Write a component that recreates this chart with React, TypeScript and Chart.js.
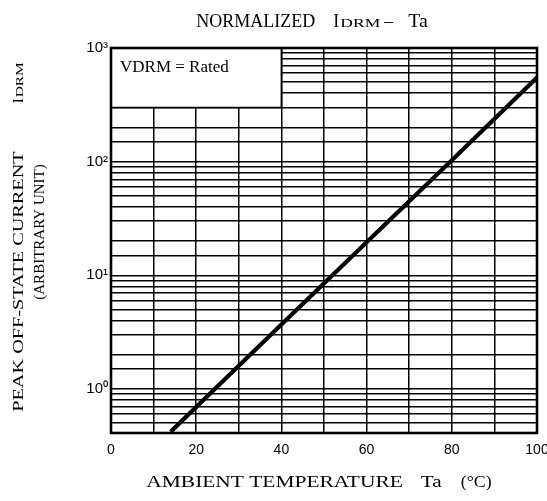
import React, { useEffect, useRef } from "react";
import { Chart, registerables } from "chart.js";

Chart.register(...registerables);

// ---- data ----
const tempC = [14, 40, 60, 80, 100];
const idrm = [0.42, 3.7, 19.5, 103, 550];
const xTicks = [0, 20, 40, 60, 80, 100];
const yDecades = [0, 1, 2, 3];
const supDigits = ["\u2070", "\u00B9", "\u00B2", "\u00B3"];
const boxXRange = [0, 40];
const boxYRange = [300, 1000];
const boxLabel = ["V", "DRM", " = Rated"];
const titleParts = ["NORMALIZED", "I", "DRM", "\u2013", "Ta"];
const yTitleLine1 = ["PEAK OFF-STATE CURRENT", "I", "DRM"];
const yTitleLine2 = "(ARBITRARY UNIT)";
const xTitleParts = ["AMBIENT TEMPERATURE", "Ta", "(\u00B0C)"];

const SERIF = '"Liberation Serif", "Times New Roman", serif';
const SANS = '"Liberation Sans", Arial, sans-serif';

type Part = { t: string; size: number; gap?: number; sx?: number };

function partsWidth(ctx: CanvasRenderingContext2D, parts: Part[]) {
  let w = 0;
  for (const p of parts) {
    ctx.font = `${p.size}px ${SERIF}`;
    w += ctx.measureText(p.t).width * (p.sx || 1) + (p.gap || 0);
  }
  return w;
}

function drawParts(ctx: CanvasRenderingContext2D, parts: Part[], cx: number, baseline: number) {
  const total = partsWidth(ctx, parts);
  let x = cx - total / 2;
  ctx.textAlign = "left";
  ctx.textBaseline = "alphabetic";
  ctx.fillStyle = "#000";
  for (const p of parts) {
    const sx = p.sx || 1;
    ctx.font = `${p.size}px ${SERIF}`;
    ctx.save();
    ctx.translate(x, baseline);
    ctx.scale(sx, 1);
    ctx.fillText(p.t, 0, 0);
    ctx.restore();
    x += ctx.measureText(p.t).width * sx + (p.gap || 0);
  }
}

const decorPlugin = {
  id: "decor",
  beforeDatasetsDraw(chart: any) {
    const { ctx, scales } = chart;
    const xs = scales.x;
    const ys = scales.y;
    const x0 = xs.getPixelForValue(boxXRange[0]);
    const x1 = xs.getPixelForValue(boxXRange[1]);
    const y0 = ys.getPixelForValue(boxYRange[1]);
    const y1 = ys.getPixelForValue(boxYRange[0]);
    ctx.save();
    ctx.fillStyle = "#fff";
    ctx.fillRect(x0, y0, x1 - x0, y1 - y0);
    ctx.strokeStyle = "#000";
    ctx.lineWidth = 1.6;
    ctx.beginPath();
    ctx.moveTo(x0, y1);
    ctx.lineTo(x1, y1);
    ctx.lineTo(x1, y0);
    ctx.stroke();
    // label inside box
    let tx = x0 + 9;
    const base = y0 + 24;
    ctx.fillStyle = "#000";
    ctx.textBaseline = "alphabetic";
    ctx.textAlign = "left";
    ctx.font = `17px ${SERIF}`;
    for (const s of boxLabel) {
      ctx.fillText(s, tx, base);
      tx += ctx.measureText(s).width;
    }
    ctx.restore();
  },
  afterDraw(chart: any) {
    const { ctx, chartArea } = chart;
    ctx.save();
    // frame
    ctx.strokeStyle = "#000";
    ctx.lineWidth = 2.6;
    ctx.strokeRect(chartArea.left, chartArea.top, chartArea.right - chartArea.left, chartArea.bottom - chartArea.top);

    // title
    drawParts(
      ctx,
      [
        { t: titleParts[0], size: 18, gap: 18 },
        { t: titleParts[1], size: 18, gap: 1 },
        { t: titleParts[2], size: 13, sx: 1.35, gap: 4 },
        { t: titleParts[3], size: 18, gap: 15 },
        { t: titleParts[4], size: 18, sx: 1.1 },
      ],
      312,
      27
    );

    // x axis title
    drawParts(
      ctx,
      [
        { t: xTitleParts[0], size: 17, sx: 1.26, gap: 18 },
        { t: xTitleParts[1], size: 17, sx: 1.25, gap: 19 },
        { t: xTitleParts[2], size: 17, sx: 1.05 },
      ],
      319,
      487
    );

    // y axis title (rotated)
    ctx.save();
    ctx.translate(23, 237);
    ctx.rotate(-Math.PI / 2);
    drawParts(
      ctx,
      [
        { t: yTitleLine1[0], size: 15, sx: 1.35, gap: 48 },
        { t: yTitleLine1[1], size: 15, gap: 1 },
        { t: yTitleLine1[2], size: 11, sx: 1.4 },
      ],
      0,
      0
    );
    ctx.restore();
    ctx.save();
    ctx.translate(44, 232);
    ctx.rotate(-Math.PI / 2);
    drawParts(ctx, [{ t: yTitleLine2, size: 15 }], 0, 0);
    ctx.restore();
    ctx.restore();
  },
};

export default function App() {
  const ref = useRef<HTMLCanvasElement | null>(null);
  useEffect(() => {
    document.body.style.margin = "0";
    const canvas = ref.current;
    if (!canvas) return;
    const chart = new Chart(canvas, {
      type: "scatter",
      data: {
        datasets: [
          {
            data: tempC.map((x, i) => ({ x, y: idrm[i] })),
            showLine: true,
            borderColor: "#000",
            backgroundColor: "#000",
            borderWidth: 4.2,
            pointRadius: 0,
            tension: 0,
          },
        ],
      },
      options: {
        responsive: false,
        animation: false,
        devicePixelRatio: 1,
        layout: { padding: { top: 48, right: 10, bottom: 0, left: 0 } },
        plugins: {
          legend: { display: false },
          tooltip: { enabled: false },
          title: { display: false },
        },
        scales: {
          x: {
            type: "linear",
            min: 0,
            max: 100,
            afterBuildTicks: (scale: any) => {
              const t: any[] = [];
              for (let v = 0; v <= 100; v += 10) t.push({ value: v });
              scale.ticks = t;
            },
            ticks: {
              autoSkip: false,
              maxRotation: 0,
              padding: 9,
              color: "#000",
              font: { family: SANS, size: 14 },
              callback: (v: any) => (xTicks.includes(Number(v)) ? String(v) : ""),
            },
            grid: { color: "#000", lineWidth: 1.5, drawTicks: false },
            border: { display: false },
            afterFit: (scale: any) => {
              scale.height = 68;
              scale.paddingLeft = 0;
              scale.paddingRight = 0;
            },
          },
          y: {
            type: "logarithmic",
            min: 0.41,
            max: 1000,
            ticks: {
              autoSkip: false,
              padding: 3,
              color: "#000",
              font: { family: SANS, size: 15 },
              callback: (v: any) => {
                const l = Math.log10(Number(v));
                const r = Math.round(l);
                if (Math.abs(l - r) < 1e-9 && yDecades.includes(r)) return "10" + supDigits[r];
                return "";
              },
            },
            grid: { color: "#000", lineWidth: 1.5, drawTicks: false },
            border: { display: false },
            afterFit: (scale: any) => {
              scale.width = 111;
              scale.paddingTop = 0;
              scale.paddingBottom = 0;
            },
          },
        },
      },
      plugins: [decorPlugin],
    } as any);
    return () => chart.destroy();
  }, []);
  return (
    <div style={{ width: 547, height: 501, background: "#fff" }}>
      <canvas ref={ref} width={547} height={501} style={{ display: "block" }} />
    </div>
  );
}
